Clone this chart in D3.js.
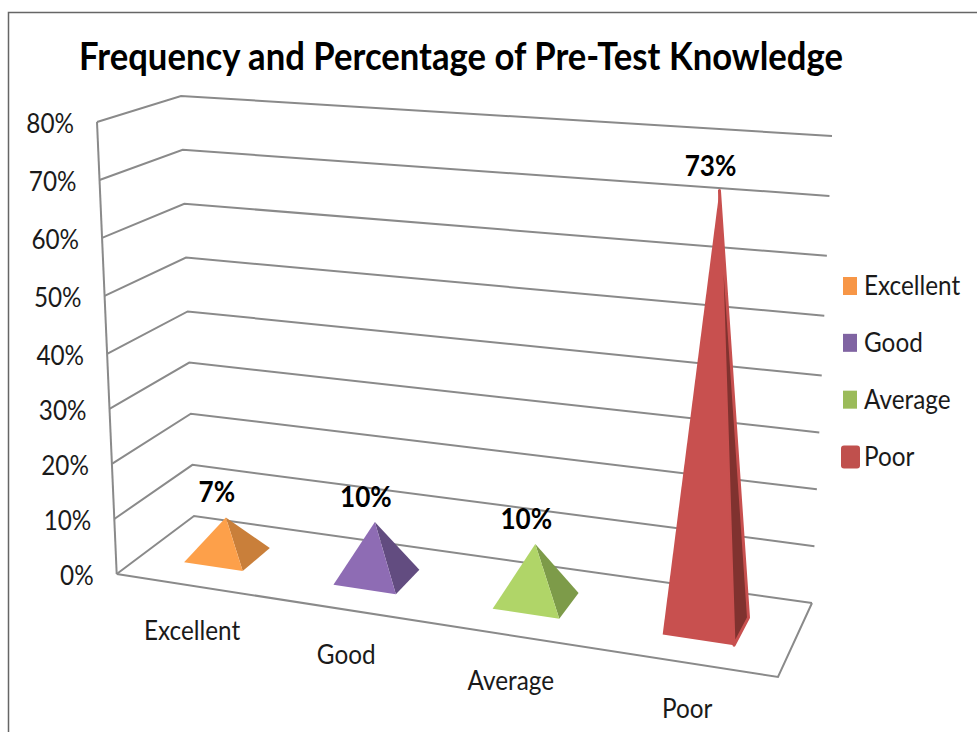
<!DOCTYPE html>
<html lang="en">
<head>
<meta charset="UTF-8">
<title>Frequency and Percentage of Pre-Test Knowledge</title>
<script src="https://d3js.org/d3.v7.min.js"></script>
<style>
  html, body { margin: 0; background: #fff; }
  svg { display: block; }
  text { font-family: Lato, "Open Sans", sans-serif; fill: #1a1a1a; }
  .grid { fill: none; stroke: #8a8a8a; stroke-width: 2px; }
  .val { font-weight: bold; font-size: 29px; fill: #000; text-anchor: middle; }
</style>
</head>
<body>
<svg width="977" height="732"></svg>
<script>
const categories = ['Excellent', 'Good', 'Average', 'Poor'];
const values = [7, 10, 10, 73];
const yTicks = [0, 10, 20, 30, 40, 50, 60, 70, 80];
const faceColors = ['#fda04a', '#8e6cb4', '#b0d568', '#c8504f'];
const sideColors = ['#c97f3a', '#624c80', '#7d9b49', '#80322f'];
const legendColors = ['#f79646', '#8064a2', '#9bbb59', '#c0504d'];

const svg = d3.select('svg');

// unit square -> quad, [front-left, front-right, back-right, back-left]
function homography(q) {
  const [[x0, y0], [x1, y1], [x2, y2], [x3, y3]] = q;
  const dx1 = x1 - x2, dx2 = x3 - x2, sx = x0 - x1 + x2 - x3;
  const dy1 = y1 - y2, dy2 = y3 - y2, sy = y0 - y1 + y2 - y3;
  const den = dx1 * dy2 - dx2 * dy1;
  const g = (sx * dy2 - dx2 * sy) / den, h = (dx1 * sy - sx * dy1) / den;
  const a = x1 - x0 + g * x1, b = x3 - x0 + h * x3;
  const d = y1 - y0 + g * y1, e = y3 - y0 + h * y3;
  return (u, w) => {
    const k = g * u + h * w + 1;
    return [(a * u + b * w + x0) / k, (d * u + e * w + y0) / k];
  };
}

const floor = homography([[116.7, 574], [778, 677], [812, 603], [194, 516]]);
const ceiling = homography([[97, 122], [818, 175], [832, 136], [181, 96]]);
// value -> share of wall height, slightly bent for perspective
const height = d3.scaleLinear().domain([0, 40, 80]).range([0, 0.487, 1]);
const catX = d3.scaleBand().domain(categories).range([0, 1]);

function project(u, w, v) {
  const a = floor(u, w), b = ceiling(u, w), t = height(v);
  return [a[0] + (b[0] - a[0]) * t, a[1] + (b[1] - a[1]) * t];
}

// Lato runs a bit wide compared to the original's font, so squeeze it
function squeeze(sel) {
  sel.each(function () {
    d3.select(this).attr('lengthAdjust', 'spacingAndGlyphs')
      .attr('textLength', this.getComputedTextLength() * 0.9);
  });
}

const line = d3.line();

// frame
svg.append('path').attr('d', 'M8.5,732V12.5H977').attr('fill', 'none').attr('stroke', '#666').attr('stroke-width', 1.5);

// title
svg.append('text').attr('x', 461).attr('y', 70).attr('text-anchor', 'middle')
  .attr('font-size', 39).attr('font-weight', 'bold').style('fill', '#000')
  .attr('textLength', 764).attr('lengthAdjust', 'spacingAndGlyphs')
  .text('Frequency and Percentage of Pre-Test Knowledge');

// wall grid lines
svg.selectAll('.gridline').data(yTicks).enter().append('path')
  .attr('class', 'grid gridline')
  .attr('d', v => line([project(0, 0, v), project(0, 1, v), project(1, 1, v)]));

// front-left axis and floor edge
svg.append('path').attr('class', 'grid').attr('d', line([project(0, 0, 80), project(0, 0, 0)]));
svg.append('path').attr('class', 'grid').attr('d', line([project(0, 0, 0), project(1, 0, 0), project(1, 1, 0)]));

// y tick labels
svg.selectAll('.ytick').data(yTicks).enter().append('text')
  .attr('class', 'ytick').attr('text-anchor', 'end').attr('font-size', 27)
  .attr('x', v => project(0, 0, v)[0] - 23)
  .attr('y', v => project(0, 0, v)[1] + 11)
  .text(v => v + '%')
  .call(squeeze);

// pyramids
const halfU = 0.05, wFront = 0.3, wBack = 0.68;
const pyr = svg.selectAll('.pyramid').data(categories).enter().append('g').attr('class', 'pyramid');

function corners(c, i) {
  const cu = catX(c) + catX.bandwidth() / 2;
  return {
    left: project(cu - halfU, wFront, 0),
    right: project(cu + halfU, wFront, 0),
    back: project(cu + halfU, wBack, 0),
    apex: project(cu, (wFront + wBack) / 2, values[i])
  };
}

pyr.append('path')
  .attr('d', (c, i) => { const p = corners(c, i); return line([p.right, p.back, p.apex]) + 'Z'; })
  .attr('fill', (c, i) => sideColors[i])
  .attr('stroke', (c, i) => values[i] > 50 ? faceColors[i] : 'none')
  .attr('stroke-width', 3).attr('stroke-linejoin', 'round');
pyr.append('path')
  .attr('d', (c, i) => { const p = corners(c, i); return line([p.left, p.right, p.apex]) + 'Z'; })
  .attr('fill', (c, i) => faceColors[i]);

// value labels
pyr.append('text').attr('class', 'val')
  .attr('x', (c, i) => corners(c, i).apex[0] - 9)
  .attr('y', (c, i) => corners(c, i).apex[1] - 15)
  .text((c, i) => values[i] + '%')
  .call(squeeze);

// category labels, hung off the front edge
svg.selectAll('.cat').data(categories).enter().append('text')
  .attr('class', 'cat').attr('text-anchor', 'middle').attr('font-size', 27)
  .attr('x', c => project(catX(c) + catX.bandwidth() / 2, 0, 0)[0] + 2)
  .attr('y', c => project(catX(c) + catX.bandwidth() / 2, 0, 0)[1] + 55)
  .text(c => c)
  .call(squeeze);

// legend
const legendY = d3.scalePoint().domain(categories).range([286, 456.5]);
const leg = svg.selectAll('.leg').data(categories).enter().append('g').attr('class', 'leg')
  .attr('transform', c => `translate(0,${legendY(c)})`);
leg.append('rect')
  .attr('x', (c, i) => i === 3 ? 841 : 843)
  .attr('y', (c, i) => i === 3 ? -11 : -9)
  .attr('width', (c, i) => i === 3 ? 19 : 14)
  .attr('height', (c, i) => i === 3 ? 23 : 18)
  .attr('rx', (c, i) => i === 3 ? 3 : 0)
  .attr('fill', (c, i) => legendColors[i]);
leg.append('text').attr('x', 864).attr('y', 9).attr('font-size', 27).text(c => c).call(squeeze);
</script>
</body>
</html>
